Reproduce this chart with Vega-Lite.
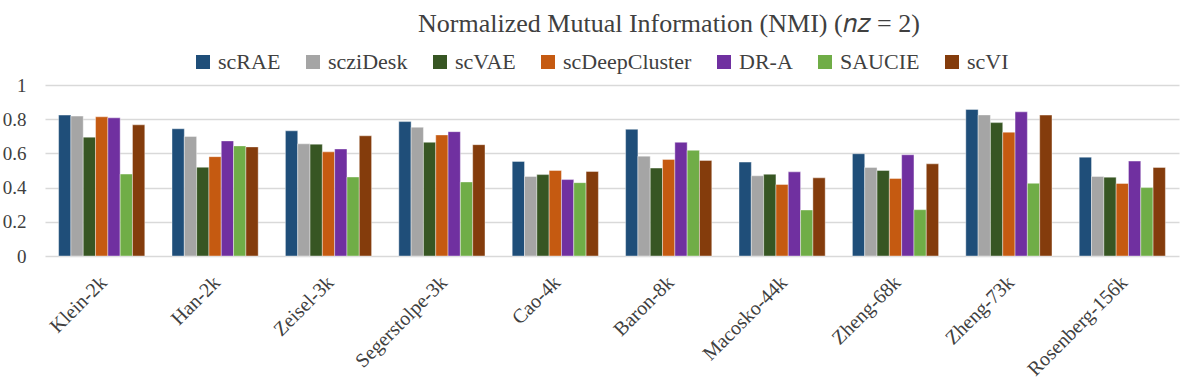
{
  "$schema": "https://vega.github.io/schema/vega-lite/v6.json",
  "width": 1134,
  "height": 171,
  "autosize": {"type": "none"},
  "padding": {"left": 45, "top": 85, "right": 17, "bottom": 125},
  "background": "white",
  "title": {
    "text": "Normalized Mutual Information (NMI) (𝑛𝑧 = 2)",
    "font": "Liberation Serif",
    "fontSize": 26,
    "fontWeight": "normal",
    "color": "#404040",
    "anchor": "middle",
    "dx": 57,
    "offset": 14
  },
  "config": {"view": {"stroke": null}},
  "data": {
    "values": [
      {"dataset": "Klein-2k", "method": "scRAE", "nmi": 0.824},
      {"dataset": "Klein-2k", "method": "scziDesk", "nmi": 0.818},
      {"dataset": "Klein-2k", "method": "scVAE", "nmi": 0.695},
      {"dataset": "Klein-2k", "method": "scDeepCluster", "nmi": 0.814},
      {"dataset": "Klein-2k", "method": "DR-A", "nmi": 0.808},
      {"dataset": "Klein-2k", "method": "SAUCIE", "nmi": 0.479},
      {"dataset": "Klein-2k", "method": "scVI", "nmi": 0.767},
      {"dataset": "Han-2k", "method": "scRAE", "nmi": 0.744},
      {"dataset": "Han-2k", "method": "scziDesk", "nmi": 0.699},
      {"dataset": "Han-2k", "method": "scVAE", "nmi": 0.519},
      {"dataset": "Han-2k", "method": "scDeepCluster", "nmi": 0.581},
      {"dataset": "Han-2k", "method": "DR-A", "nmi": 0.673},
      {"dataset": "Han-2k", "method": "SAUCIE", "nmi": 0.644},
      {"dataset": "Han-2k", "method": "scVI", "nmi": 0.638},
      {"dataset": "Zeisel-3k", "method": "scRAE", "nmi": 0.732},
      {"dataset": "Zeisel-3k", "method": "scziDesk", "nmi": 0.656},
      {"dataset": "Zeisel-3k", "method": "scVAE", "nmi": 0.654},
      {"dataset": "Zeisel-3k", "method": "scDeepCluster", "nmi": 0.609},
      {"dataset": "Zeisel-3k", "method": "DR-A", "nmi": 0.626},
      {"dataset": "Zeisel-3k", "method": "SAUCIE", "nmi": 0.462},
      {"dataset": "Zeisel-3k", "method": "scVI", "nmi": 0.703},
      {"dataset": "Segerstolpe-3k", "method": "scRAE", "nmi": 0.786},
      {"dataset": "Segerstolpe-3k", "method": "scziDesk", "nmi": 0.753},
      {"dataset": "Segerstolpe-3k", "method": "scVAE", "nmi": 0.665},
      {"dataset": "Segerstolpe-3k", "method": "scDeepCluster", "nmi": 0.708},
      {"dataset": "Segerstolpe-3k", "method": "DR-A", "nmi": 0.727},
      {"dataset": "Segerstolpe-3k", "method": "SAUCIE", "nmi": 0.433},
      {"dataset": "Segerstolpe-3k", "method": "scVI", "nmi": 0.651},
      {"dataset": "Cao-4k", "method": "scRAE", "nmi": 0.553},
      {"dataset": "Cao-4k", "method": "scziDesk", "nmi": 0.465},
      {"dataset": "Cao-4k", "method": "scVAE", "nmi": 0.476},
      {"dataset": "Cao-4k", "method": "scDeepCluster", "nmi": 0.5},
      {"dataset": "Cao-4k", "method": "DR-A", "nmi": 0.447},
      {"dataset": "Cao-4k", "method": "SAUCIE", "nmi": 0.429},
      {"dataset": "Cao-4k", "method": "scVI", "nmi": 0.494},
      {"dataset": "Baron-8k", "method": "scRAE", "nmi": 0.741},
      {"dataset": "Baron-8k", "method": "scziDesk", "nmi": 0.584},
      {"dataset": "Baron-8k", "method": "scVAE", "nmi": 0.514},
      {"dataset": "Baron-8k", "method": "scDeepCluster", "nmi": 0.565},
      {"dataset": "Baron-8k", "method": "DR-A", "nmi": 0.665},
      {"dataset": "Baron-8k", "method": "SAUCIE", "nmi": 0.618},
      {"dataset": "Baron-8k", "method": "scVI", "nmi": 0.559},
      {"dataset": "Macosko-44k", "method": "scRAE", "nmi": 0.549},
      {"dataset": "Macosko-44k", "method": "scziDesk", "nmi": 0.469},
      {"dataset": "Macosko-44k", "method": "scVAE", "nmi": 0.478},
      {"dataset": "Macosko-44k", "method": "scDeepCluster", "nmi": 0.418},
      {"dataset": "Macosko-44k", "method": "DR-A", "nmi": 0.492},
      {"dataset": "Macosko-44k", "method": "SAUCIE", "nmi": 0.269},
      {"dataset": "Macosko-44k", "method": "scVI", "nmi": 0.457},
      {"dataset": "Zheng-68k", "method": "scRAE", "nmi": 0.598},
      {"dataset": "Zheng-68k", "method": "scziDesk", "nmi": 0.518},
      {"dataset": "Zheng-68k", "method": "scVAE", "nmi": 0.5},
      {"dataset": "Zheng-68k", "method": "scDeepCluster", "nmi": 0.453},
      {"dataset": "Zheng-68k", "method": "DR-A", "nmi": 0.592},
      {"dataset": "Zheng-68k", "method": "SAUCIE", "nmi": 0.271},
      {"dataset": "Zheng-68k", "method": "scVI", "nmi": 0.539},
      {"dataset": "Zheng-73k", "method": "scRAE", "nmi": 0.857},
      {"dataset": "Zheng-73k", "method": "scziDesk", "nmi": 0.825},
      {"dataset": "Zheng-73k", "method": "scVAE", "nmi": 0.78},
      {"dataset": "Zheng-73k", "method": "scDeepCluster", "nmi": 0.724},
      {"dataset": "Zheng-73k", "method": "DR-A", "nmi": 0.843},
      {"dataset": "Zheng-73k", "method": "SAUCIE", "nmi": 0.425},
      {"dataset": "Zheng-73k", "method": "scVI", "nmi": 0.824},
      {"dataset": "Rosenberg-156k", "method": "scRAE", "nmi": 0.578},
      {"dataset": "Rosenberg-156k", "method": "scziDesk", "nmi": 0.465},
      {"dataset": "Rosenberg-156k", "method": "scVAE", "nmi": 0.461},
      {"dataset": "Rosenberg-156k", "method": "scDeepCluster", "nmi": 0.424},
      {"dataset": "Rosenberg-156k", "method": "DR-A", "nmi": 0.555},
      {"dataset": "Rosenberg-156k", "method": "SAUCIE", "nmi": 0.4},
      {"dataset": "Rosenberg-156k", "method": "scVI", "nmi": 0.518}
    ]
  },
  "mark": {"type": "bar", "stroke": "#ffffff", "strokeOpacity": 0.5, "strokeWidth": 0.8},
  "encoding": {
    "x": {
      "field": "dataset",
      "type": "nominal",
      "sort": null,
      "scale": {"paddingInner": 0.24, "paddingOuter": 0.12},
      "axis": {
        "title": null,
        "labelAngle": -45,
        "labelFont": "Liberation Serif",
        "labelFontSize": 20,
        "labelColor": "#404040",
        "ticks": false,
        "domain": false,
        "labelPadding": 16,
        "labelOffset": -5
      }
    },
    "xOffset": {
      "field": "method",
      "type": "nominal",
      "sort": null,
      "scale": {"paddingInner": 0, "paddingOuter": 0}
    },
    "y": {
      "field": "nmi",
      "type": "quantitative",
      "scale": {"domain": [0, 1]},
      "axis": {
        "title": null,
        "values": [0, 0.2, 0.4, 0.6, 0.8, 1],
        "format": "~g",
        "domain": false,
        "ticks": false,
        "gridColor": "#D9D9D9",
        "gridWidth": 1.5,
        "labelFont": "Liberation Serif",
        "labelFontSize": 19,
        "labelColor": "#404040",
        "labelPadding": 19
      }
    },
    "color": {
      "field": "method",
      "type": "nominal",
      "sort": null,
      "scale": {
        "domain": ["scRAE", "scziDesk", "scVAE", "scDeepCluster", "DR-A", "SAUCIE", "scVI"],
        "range": ["#1F4E79", "#A5A5A5", "#375623", "#C55A11", "#7030A0", "#70AD47", "#843C0C"]
      },
      "legend": {
        "orient": "none",
        "legendX": 147,
        "legendY": -34,
        "direction": "horizontal",
        "title": null,
        "symbolType": "square",
        "symbolSize": 196,
        "symbolStrokeWidth": 0,
        "labelFont": "Liberation Serif",
        "labelFontSize": 22,
        "labelColor": "#404040",
        "labelOffset": 4,
        "columnPadding": 21
      }
    }
  }
}
